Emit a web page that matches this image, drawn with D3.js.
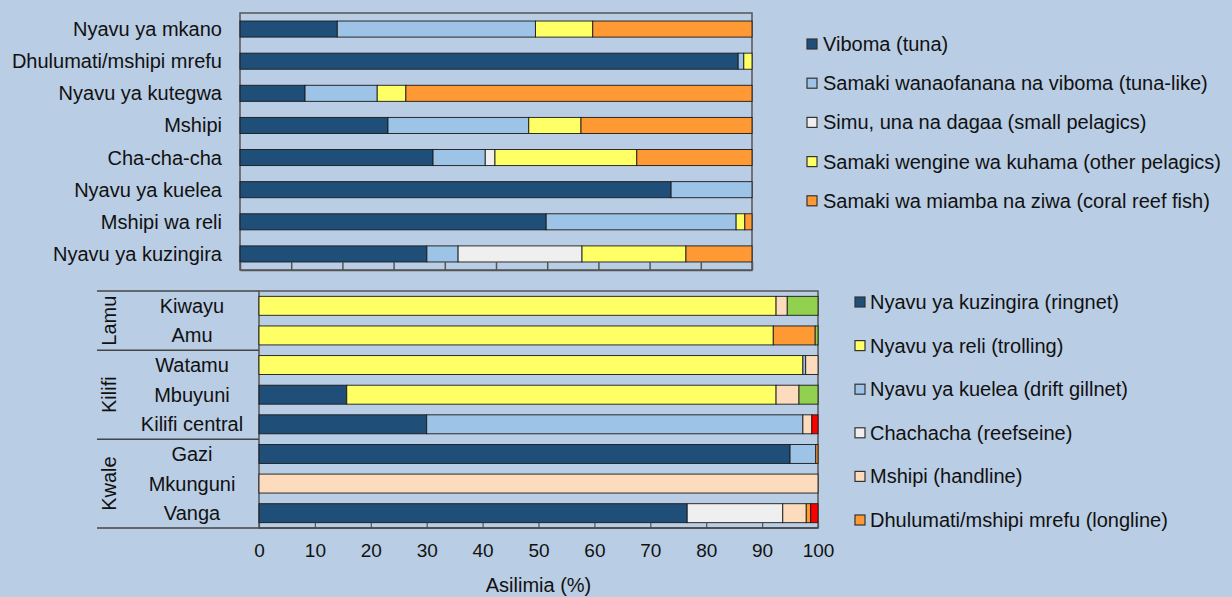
<!DOCTYPE html>
<html lang="sw">
<head>
<meta charset="UTF-8" />
<title>Asilimia ya samaki na zana</title>
<script src="https://d3js.org/d3.v7.min.js"></script>
<style>
    body {
        margin: 0;
        background: #b9cde4;
        font-family: 'Liberation Sans', Arial, sans-serif;
    }
    svg text {
        fill: #111;
    }
</style>
</head>
<body>
<svg id="chart" width="1232" height="597"></svg>
<script>

// --- top chart: catch composition by gear ---
var gearNames = ["Nyavu ya mkano", "Dhulumati/mshipi mrefu", "Nyavu ya kutegwa", "Mshipi",
                 "Cha-cha-cha", "Nyavu ya kuelea", "Mshipi wa reli", "Nyavu ya kuzingira"];
var fishGroups = ["Viboma (tuna)", "Samaki wanaofanana na viboma (tuna-like)",
                  "Simu, una na dagaa (small pelagics)", "Samaki wengine wa kuhama (other pelagics)",
                  "Samaki wa miamba na ziwa (coral reef fish)"];
var tuna       = [19.0, 97.3, 12.7, 28.9, 37.7, 84.2, 59.8, 36.5];
var tunaLike   = [38.7,  1.1, 14.1, 27.5, 10.2, 15.8, 37.1,  6.1];
var smallPel   = [ 0.0,  0.0,  0.0,  0.0,  1.9,  0.0,  0.0, 24.2];
var otherPel   = [11.2,  1.6,  5.6, 10.2, 27.7,  0.0,  1.7, 20.3];
var reefFish   = [31.1,  0.0, 67.6, 33.4, 22.5,  0.0,  1.4, 12.9];
var fishColors = ["#1f4e79", "#9dc3e6", "#efefef", "#ffff66", "#ff9933"];

// --- bottom chart: gear use by landing site ---
var sites = ["Kiwayu", "Amu", "Watamu", "Mbuyuni", "Kilifi central", "Gazi", "Mkunguni", "Vanga"];
var regions = [
    {name: "Lamu", first: 0, last: 1},
    {name: "Kilifi", first: 2, last: 4},
    {name: "Kwale", first: 5, last: 7}
];
var gearSeries = ["Nyavu ya kuzingira (ringnet)", "Nyavu ya reli (trolling)",
                  "Nyavu ya kuelea (drift gillnet)", "Chachacha (reefseine)",
                  "Mshipi (handline)", "Dhulumati/mshipi mrefu (longline)",
                  "Nyingine", "Mtego"];
var ringnet   = [ 0.0,  0.0,  0.0, 15.7, 30.0, 95.0,   0.0, 76.6];
var trolling  = [92.5, 92.0, 97.3, 76.8,  0.0,  0.0,   0.0,  0.0];
var drift     = [ 0.0,  0.0,  0.5,  0.0, 67.3,  4.6,   0.0,  0.0];
var reefseine = [ 0.0,  0.0,  0.0,  0.0,  0.0,  0.0,   0.0, 17.1];
var handline  = [ 2.0,  0.0,  2.2,  4.1,  1.6,  0.0, 100.0,  4.2];
var longline  = [ 0.0,  7.5,  0.0,  0.0,  0.0,  0.4,   0.0,  0.8];
var otherGear = [ 5.5,  0.5,  0.0,  3.4,  0.0,  0.0,   0.0,  0.0];
var trapGear  = [ 0.0,  0.0,  0.0,  0.0,  1.1,  0.0,   0.0,  1.3];
var gearColors = ["#1f4e79", "#ffff66", "#9dc3e6", "#efefef", "#fddcbd", "#ff9933", "#92d050", "#ff0000"];
var legendCount = 6;   // only the first six appear in the legend

var xTicks = d3.range(0, 101, 10);

var svg = d3.select("#chart");
var fontSize = 20;

// build rows for d3.stack
function buildRows(labels, keys, columns) {
    return labels.map(function(lab, i) {
        var row = {label: lab};
        keys.forEach(function(k, j) { row[k] = columns[j][i]; });
        return row;
    });
}

function drawBars(g, rows, keys, colors, x, y) {
    var stack = d3.stack().keys(keys)(rows);
    g.append("g")
        .selectAll("g")
        .data(stack)
        .enter().append("g")
            .attr("fill", function(d, i) { return colors[i]; })
        .selectAll("rect")
        .data(function(d) { return d.filter(function(s) { return s[1] - s[0] > 0; }); })
        .enter().append("rect")
            .attr("x", function(d) { return x(d[0]); })
            .attr("y", function(d) { return y(d.data.label); })
            .attr("width", function(d) { return x(d[1]) - x(d[0]); })
            .attr("height", y.bandwidth())
            .attr("stroke", "#1a1a1a")
            .attr("stroke-width", 0.9);
}

// ---------- top chart ----------
var boxTop = {left: 240, right: 752, top: 13, bottom: 270};
var xTop = d3.scaleLinear().domain([0, 100]).range([boxTop.left, boxTop.right]);
var yTop = d3.scaleBand().domain(gearNames).range([boxTop.top, boxTop.bottom])
    .paddingInner(0.5).paddingOuter(0.25);

var gTop = svg.append("g");
gTop.append("rect")
    .attr("x", boxTop.left).attr("y", boxTop.top)
    .attr("width", boxTop.right - boxTop.left).attr("height", boxTop.bottom - boxTop.top)
    .attr("fill", "none").attr("stroke", "#555").attr("stroke-width", 1.5);

drawBars(gTop, buildRows(gearNames, fishGroups, [tuna, tunaLike, smallPel, otherPel, reefFish]),
    fishGroups, fishColors, xTop, yTop);

gTop.append("g")
    .attr("transform", "translate(0," + boxTop.bottom + ")")
    .call(d3.axisBottom(xTop).tickValues(xTicks).tickSize(-8).tickSizeOuter(0).tickFormat(""))
    .call(function(a) { a.selectAll("line, path").attr("stroke", "#555").attr("stroke-width", 1.5); });

gTop.append("g").selectAll("text")
    .data(gearNames)
    .enter().append("text")
        .attr("x", 222)
        .attr("y", function(d) { return yTop(d) + yTop.bandwidth() / 2; })
        .attr("dy", "0.35em")
        .attr("text-anchor", "end")
        .attr("font-size", fontSize)
        .text(function(d) { return d; });

// top legend
var legTop = svg.append("g").selectAll("g")
    .data(fishGroups)
    .enter().append("g")
        .attr("transform", function(d, i) { return "translate(807," + (44 + i * 39.2) + ")"; });
legTop.append("rect")
    .attr("x", 0).attr("y", -5).attr("width", 10).attr("height", 10)
    .attr("fill", function(d, i) { return fishColors[i]; })
    .attr("stroke", "#333").attr("stroke-width", 1.2);
legTop.append("text")
    .attr("x", 16).attr("dy", "0.35em")
    .attr("font-size", fontSize)
    .text(function(d) { return d; });

// ---------- bottom chart ----------
var boxBot = {left: 259, right: 818, top: 291, bottom: 528};
var xBot = d3.scaleLinear().domain([0, 100]).range([boxBot.left, boxBot.right]);
var yBot = d3.scaleBand().domain(sites).range([boxBot.top, boxBot.bottom])
    .paddingInner(0.36).paddingOuter(0.18);

var gBot = svg.append("g");
gBot.append("rect")
    .attr("x", boxBot.left).attr("y", boxBot.top)
    .attr("width", boxBot.right - boxBot.left).attr("height", boxBot.bottom - boxBot.top)
    .attr("fill", "none").attr("stroke", "#555").attr("stroke-width", 1.5);

drawBars(gBot, buildRows(sites, gearSeries,
        [ringnet, trolling, drift, reefseine, handline, longline, otherGear, trapGear]),
    gearSeries, gearColors, xBot, yBot);

gBot.append("g")
    .attr("transform", "translate(0," + boxBot.bottom + ")")
    .call(d3.axisBottom(xBot).tickValues(xTicks).tickSize(-5).tickSizeOuter(0).tickPadding(16))
    .call(function(a) {
        a.select(".domain").remove();
        a.selectAll("line").attr("stroke", "#555").attr("stroke-width", 1.2);
        a.selectAll("text").attr("font-size", 19).attr("font-family", "'Liberation Sans', Arial, sans-serif")
            .attr("fill", "#111");
    });

// group separators and region labels
var step = yBot.step();
var lineYs = [boxBot.top].concat(regions.map(function(r) { return boxBot.top + (r.last + 1) * step; }));
gBot.append("g").selectAll("line")
    .data(lineYs)
    .enter().append("line")
        .attr("x1", 97).attr("x2", function(d, i) { return i === lineYs.length - 1 ? boxBot.right : boxBot.left; })
        .attr("y1", function(d) { return d; }).attr("y2", function(d) { return d; })
        .attr("stroke", "#444").attr("stroke-width", 1.5);

gBot.append("g").selectAll("text")
    .data(regions)
    .enter().append("text")
        .attr("transform", function(r) {
            var cy = boxBot.top + (r.first + r.last + 1) / 2 * step;
            return "translate(109," + cy + ") rotate(-90)";
        })
        .attr("text-anchor", "middle")
        .attr("dy", "0.35em")
        .attr("font-size", fontSize)
        .text(function(r) { return r.name; });

gBot.append("g").selectAll("text")
    .data(sites)
    .enter().append("text")
        .attr("x", 192)
        .attr("y", function(d) { return yBot(d) + yBot.bandwidth() / 2; })
        .attr("dy", "0.35em")
        .attr("text-anchor", "middle")
        .attr("font-size", fontSize)
        .text(function(d) { return d; })
        .each(function() {
            // keep long labels clear of the axis line
            var b = this.getBBox();
            if (b.x + b.width > 244) {
                d3.select(this).attr("text-anchor", "end").attr("x", 242);
            }
        });

svg.append("text")
    .attr("x", (boxBot.left + boxBot.right) / 2)
    .attr("y", 585)
    .attr("dy", "0.35em")
    .attr("text-anchor", "middle")
    .attr("font-size", fontSize)
    .text("Asilimia (%)");

// bottom legend
var legBot = svg.append("g").selectAll("g")
    .data(gearSeries.slice(0, legendCount))
    .enter().append("g")
        .attr("transform", function(d, i) { return "translate(855," + (302 + i * 43.6) + ")"; });
legBot.append("rect")
    .attr("x", 0).attr("y", -5).attr("width", 10).attr("height", 10)
    .attr("fill", function(d, i) { return gearColors[i]; })
    .attr("stroke", "#333").attr("stroke-width", 1.2);
legBot.append("text")
    .attr("x", 15).attr("dy", "0.35em")
    .attr("font-size", fontSize)
    .text(function(d) { return d; });

</script>
</body>
</html>
